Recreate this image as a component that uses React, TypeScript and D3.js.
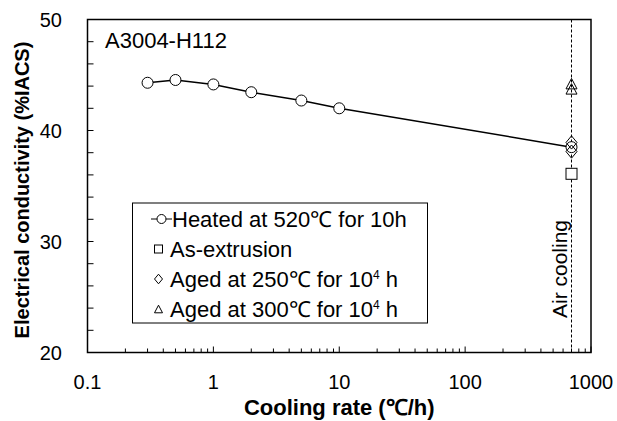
import React from "react";
import * as d3 from "d3";

const rates = [0.3, 0.5, 1, 2, 5, 10, 700];
const heated = [44.3, 44.55, 44.15, 43.45, 42.7, 42.0, 38.5];
const airRate = 700;
const asExtrusion = [36.1];
const aged250 = [38.92, 38.1];
const aged300 = [44.22, 43.75];
const xTicks = [0.1, 1, 10, 100, 1000];
const xTickLabels = ["0.1", "1", "10", "100", "1000"];
const yTicks = [20, 30, 40, 50];
const legendLabels = [
  "Heated at 520℃ for 10h",
  "As-extrusion",
  "Aged at 250℃ for 10",
  "Aged at 300℃ for 10",
];

const W = 617, H = 421;
const L = 87.5, R = 591, T = 19.5, B = 352.5;
const FONT = "'Liberation Sans', Arial, sans-serif";

function Marker({ type, x, y, s, fill = "#fff" }: { type: string; x: number; y: number; s: number; fill?: string }) {
  const st = { fill, stroke: "#000", strokeWidth: 1 };
  if (type === "circle") return <circle cx={x} cy={y} r={s / 2} {...st} />;
  if (type === "square") return <rect x={x - s / 2} y={y - s / 2} width={s} height={s} {...st} />;
  if (type === "diamond") {
    const w = s / 2, h = s * 0.6;
    return <path d={`M${x},${y - h}L${x + w},${y}L${x},${y + h}L${x - w},${y}Z`} {...st} />;
  }
  const h = s * 0.95, w = s / 2;
  return <path d={`M${x},${y - h / 2}L${x + w},${y + h / 2}L${x - w},${y + h / 2}Z`} {...st} />;
}

export default function App() {
  const x = d3.scaleLog().domain([0.1, 1000]).range([L, R]);
  const y = d3.scaleLinear().domain([20, 50]).range([B, T]);
  const minor: number[] = [];
  for (let d = 0.1; d < 1000; d *= 10) for (let k = 2; k <= 9; k++) minor.push(d * k);
  const yMinor = d3.range(20, 51, 2);
  const line = d3.line<number>().x((_, i) => x(rates[i])).y((v) => y(v));
  const xa = x(airRate);
  const legY = [219, 249, 279, 309];
  const legTypes = ["circle", "square", "diamond", "triangle"];
  return (
    <svg width={W} height={H} style={{ position: "absolute", left: 0, top: 0, background: "#fff" }} fontFamily={FONT}>
      <rect x={0} y={0} width={W} height={H} fill="#fff" />
      {/* dashed air cooling line */}
      <line x1={xa} x2={xa} y1={T} y2={B} stroke="#000" strokeWidth={1} strokeDasharray="3,2" />
      <text transform={`translate(${xa - 5},${269}) rotate(-90)`} textAnchor="middle" fontSize={21}>Air cooling</text>
      {/* ticks */}
      {minor.map((m, i) => (
        <line key={"mx" + i} x1={x(m)} x2={x(m)} y1={B} y2={B - 4} stroke="#000" strokeWidth={1} />
      ))}
      {xTicks.map((t, i) => (
        <line key={"Mx" + i} x1={x(t)} x2={x(t)} y1={B} y2={B - 6} stroke="#000" strokeWidth={1} />
      ))}
      {yMinor.map((t, i) => (
        <line key={"my" + i} x1={L} x2={L + 6} y1={y(t)} y2={y(t)} stroke="#000" strokeWidth={1} />
      ))}
      {/* frame */}
      <rect x={L} y={T} width={R - L} height={B - T} fill="none" stroke="#000" strokeWidth={1.5} />
      {/* tick labels */}
      {xTicks.map((t, i) => (
        <text key={"xl" + i} x={x(t)} y={388.5} textAnchor="middle" fontSize={20}>{xTickLabels[i]}</text>
      ))}
      {yTicks.map((t, i) => (
        <text key={"yl" + i} x={62} y={y(t) + 7} textAnchor="end" fontSize={20}>{t}</text>
      ))}
      {/* axis titles */}
      <text x={(L + R) / 2} y={415} textAnchor="middle" fontSize={22} fontWeight="bold">Cooling rate (℃/h)</text>
      <text transform={`translate(29,${190}) rotate(-90)`} textAnchor="middle" fontSize={20} fontWeight="bold">Electrical conductivity (%IACS)</text>
      <text x={105} y={48} fontSize={22}>A3004-H112</text>
      {/* data */}
      <path d={line(heated) || ""} fill="none" stroke="#000" strokeWidth={1.5} />
      {heated.map((v, i) => <Marker key={"c" + i} type="circle" x={x(rates[i])} y={y(v)} s={11} />)}
      {aged300.map((v, i) => <Marker key={"t" + i} type="triangle" x={xa} y={y(v)} s={11} fill="none" />)}
      {aged250.map((v, i) => <Marker key={"d" + i} type="diamond" x={xa} y={y(v)} s={11} fill="none" />)}
      {asExtrusion.map((v, i) => <Marker key={"s" + i} type="square" x={xa} y={y(v)} s={11} />)}
      {/* legend */}
      <rect x={132.5} y={203} width={295} height={120} fill="#fff" stroke="#000" strokeWidth={1} />
      {legendLabels.map((lab, i) => (
        <g key={"lg" + i}>
          {i === 0 && <line x1={151} x2={172} y1={legY[i]} y2={legY[i]} stroke="#000" strokeWidth={1} />}
          <Marker type={legTypes[i]} x={i === 0 ? 161.5 : 158.5} y={legY[i]} s={i === 0 ? 9 : 8} />
          <text x={i === 0 ? 172 : 170} y={legY[i] + 7.5} fontSize={22}>
            {lab}
            {i >= 2 && <tspan fontSize={12} dy={-8}>4</tspan>}
            {i >= 2 && <tspan dy={8}> h</tspan>}
          </text>
        </g>
      ))}
    </svg>
  );
}
